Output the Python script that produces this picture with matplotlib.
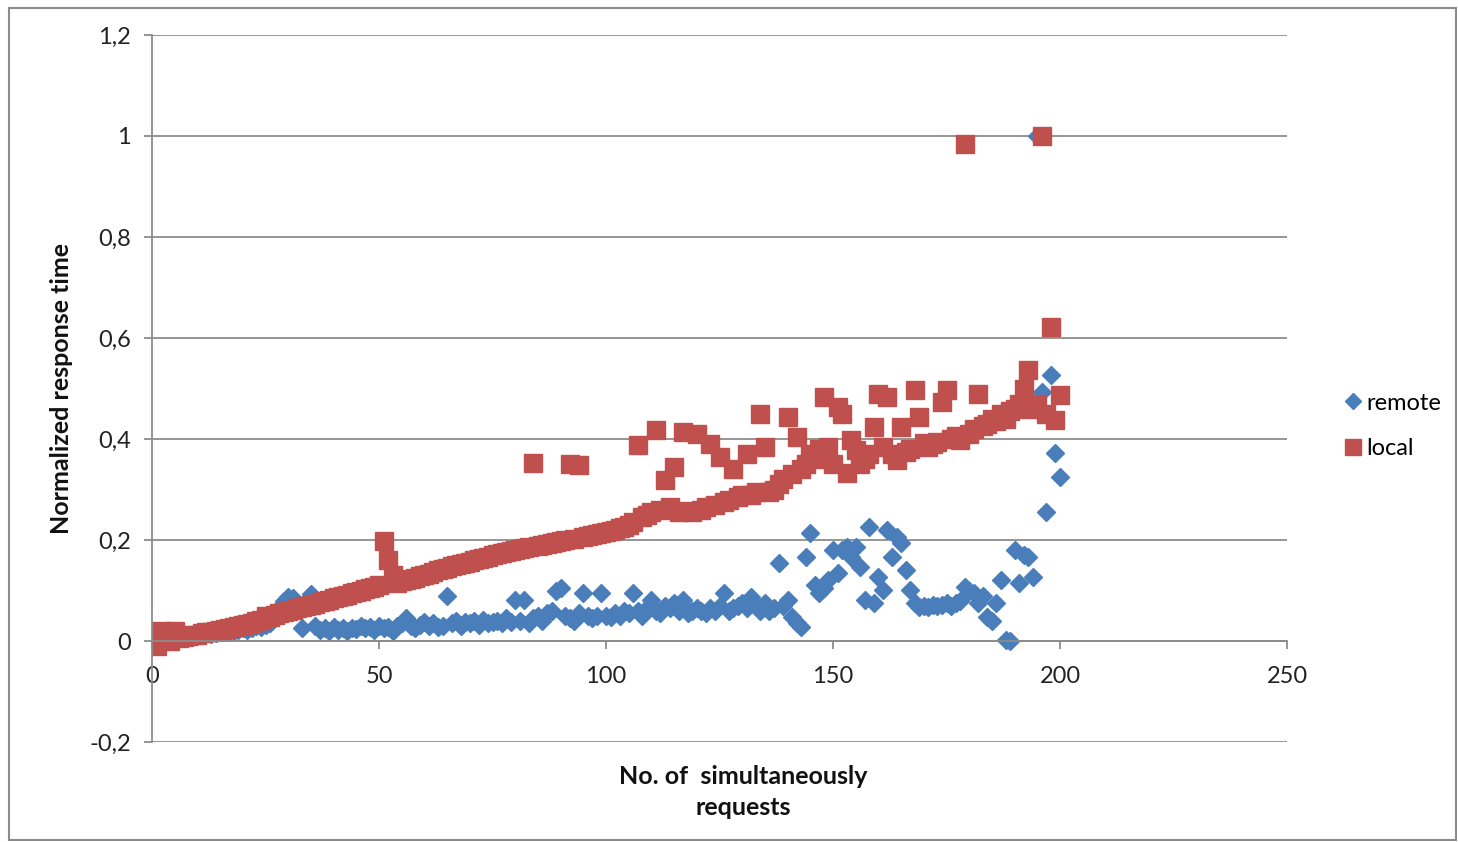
import matplotlib.pyplot as plt
from matplotlib.patches import Rectangle
from matplotlib.ticker import FuncFormatter

plt.rcParams['font.family'] = ['Lato', 'DejaVu Sans']

# number of simultaneous requests (x)
requests = list(range(1, 201))

# normalized response time, remote service
remote = [
    0.02, 0.015, 0.01, 0.02, 0.01, 0.005, 0.008, 0.01, 0.012, 0.01,
    0.012, 0.015, 0.013, 0.016, 0.018, 0.02, 0.018, 0.02, 0.022, 0.025,
    0.022, 0.025, 0.03, 0.028, 0.032, 0.035, 0.05, 0.065, 0.08, 0.087,
    0.085, 0.075, 0.025, 0.07, 0.093, 0.03, 0.022, 0.025, 0.02, 0.028,
    0.022, 0.025, 0.02, 0.026, 0.024, 0.03, 0.025, 0.028, 0.022, 0.03,
    0.025, 0.028, 0.02, 0.03, 0.035, 0.045, 0.03, 0.025, 0.032, 0.038,
    0.03, 0.035, 0.028, 0.03, 0.089, 0.035, 0.04, 0.03, 0.038, 0.035,
    0.04, 0.032, 0.042, 0.035, 0.038, 0.04, 0.035, 0.045, 0.038, 0.081,
    0.04, 0.081, 0.035, 0.045, 0.05, 0.04, 0.055, 0.06, 0.1, 0.105,
    0.05, 0.045, 0.04, 0.055, 0.095, 0.05, 0.045, 0.05, 0.095, 0.05,
    0.048, 0.055, 0.05, 0.06, 0.055, 0.095, 0.06, 0.05, 0.065, 0.081,
    0.06, 0.055, 0.07, 0.065, 0.075, 0.06, 0.081, 0.055, 0.06, 0.065,
    0.06, 0.055, 0.065, 0.06, 0.07, 0.095, 0.06, 0.065, 0.07, 0.075,
    0.065, 0.087, 0.07, 0.06, 0.075, 0.06, 0.065, 0.154, 0.07, 0.081,
    0.048, 0.036, 0.028, 0.166, 0.214, 0.11, 0.095, 0.105, 0.12, 0.18,
    0.134, 0.18, 0.186, 0.166, 0.186, 0.147, 0.081, 0.226, 0.075, 0.127,
    0.101, 0.22, 0.166, 0.206, 0.194, 0.14, 0.101, 0.075, 0.068, 0.07,
    0.068, 0.072, 0.07, 0.072, 0.075, 0.07, 0.075, 0.08, 0.107, 0.1,
    0.095, 0.075, 0.09, 0.048, 0.04, 0.075, 0.12, 0.002, 0.0, 0.18,
    0.115, 0.17, 0.166, 0.127, 1.0, 0.493, 0.255, 0.527, 0.372, 0.325,
]

# normalized response time, local service
local = [
    -0.01, 0.02, 0.015, 0.0, 0.02, 0.005, 0.008, 0.01, 0.012, 0.012,
    0.015, 0.017, 0.018, 0.02, 0.022, 0.023, 0.025, 0.027, 0.03, 0.032,
    0.034, 0.036, 0.04, 0.042, 0.05, 0.048, 0.052, 0.055, 0.057, 0.06,
    0.062, 0.065, 0.067, 0.07, 0.072, 0.074, 0.077, 0.08, 0.082, 0.085,
    0.087, 0.09, 0.092, 0.095, 0.097, 0.1, 0.102, 0.104, 0.107, 0.11,
    0.198, 0.16, 0.13, 0.115, 0.118, 0.12, 0.122, 0.125, 0.128, 0.13,
    0.133, 0.136, 0.14, 0.142, 0.145, 0.148, 0.15, 0.153, 0.155, 0.157,
    0.16, 0.162, 0.165, 0.167, 0.17, 0.172, 0.174, 0.176, 0.178, 0.18,
    0.182, 0.184, 0.186, 0.352, 0.188, 0.19, 0.192, 0.194, 0.196, 0.198,
    0.2, 0.35, 0.202, 0.348, 0.205, 0.207, 0.21, 0.212, 0.214, 0.216,
    0.218, 0.22, 0.223, 0.226, 0.23, 0.235, 0.388, 0.245, 0.25, 0.255,
    0.418, 0.26, 0.319, 0.265, 0.345, 0.255, 0.414, 0.258, 0.255, 0.41,
    0.26, 0.265, 0.39, 0.27, 0.365, 0.275, 0.28, 0.34, 0.285, 0.29,
    0.37, 0.29, 0.295, 0.45, 0.385, 0.295, 0.3, 0.31, 0.32, 0.444,
    0.33, 0.404, 0.34, 0.35, 0.37, 0.36, 0.38, 0.483, 0.385, 0.35,
    0.463, 0.45, 0.333, 0.398, 0.378, 0.35, 0.36, 0.37, 0.424, 0.49,
    0.385, 0.483, 0.37, 0.358, 0.424, 0.375, 0.38, 0.497, 0.444, 0.392,
    0.385, 0.39, 0.395, 0.473, 0.497, 0.4, 0.405, 0.398, 0.984, 0.41,
    0.42, 0.49, 0.425, 0.43, 0.44, 0.435, 0.45, 0.44, 0.455, 0.46,
    0.47, 0.5, 0.537, 0.46, 0.47, 1.0, 0.45, 0.622, 0.437, 0.487,
]

y_ticks = [-0.2, 0, 0.2, 0.4, 0.6, 0.8, 1.0, 1.2]
x_ticks = [0, 50, 100, 150, 200, 250]

fig = plt.figure(figsize=(14.58, 8.42), dpi=100)
ax = fig.add_axes([152 / 1458, 1 - 742 / 842, (1287 - 152) / 1458, (742 - 35) / 842])

ax.plot(requests, remote, linestyle='none', marker='D', markersize=9.5,
        color='#4A7EBB', label='remote')
ax.plot(requests, local, linestyle='none', marker='s', markersize=13,
        color='#C0504D', label='local')

ax.set_xlim(0, 250)
ax.set_ylim(-0.2, 1.2)
ax.set_xticks(x_ticks)
ax.set_yticks(y_ticks)
ax.yaxis.set_major_formatter(FuncFormatter(
    lambda v, p: ('%g' % round(v, 1)).replace('.', ',')))

# horizontal gridlines, x axis crossing at zero
ax.grid(axis='y', color='#8c8c8c', linewidth=1.3)
ax.set_axisbelow(True)
ax.spines['top'].set_visible(False)
ax.spines['right'].set_visible(False)
ax.spines['bottom'].set_position(('data', 0))
ax.spines['bottom'].set_color('#8c8c8c')
ax.spines['left'].set_color('#8c8c8c')
ax.spines['bottom'].set_linewidth(1.3)
ax.spines['left'].set_linewidth(1.3)
ax.tick_params(axis='both', colors='#8c8c8c', labelcolor='#222222',
               labelsize=17, length=6, width=1.3)
ax.tick_params(axis='x', pad=12)
ax.tick_params(axis='y', pad=9)

ax.set_ylabel('Normalized response time', fontsize=18, fontweight='bold',
              color='#111111', labelpad=12)
fig.text(743 / 1458, 1 - 792 / 842, 'No. of  simultaneously\nrequests',
         ha='center', va='center', fontsize=18, fontweight='bold',
         color='#111111', linespacing=1.45)

ax.legend(loc='center left', bbox_to_anchor=(1.028, 0.447), frameon=False,
          fontsize=17, handletextpad=0.0, labelspacing=1.05,
          handlelength=1.1, markerscale=0.85)

# outer chart border
fig.patches.append(Rectangle((9 / 1458, 2 / 842), 1447 / 1458, 832 / 842,
                             transform=fig.transFigure, fill=False,
                             edgecolor='#8c8c8c', linewidth=1.5))

fig.savefig('out.png', dpi=100)
